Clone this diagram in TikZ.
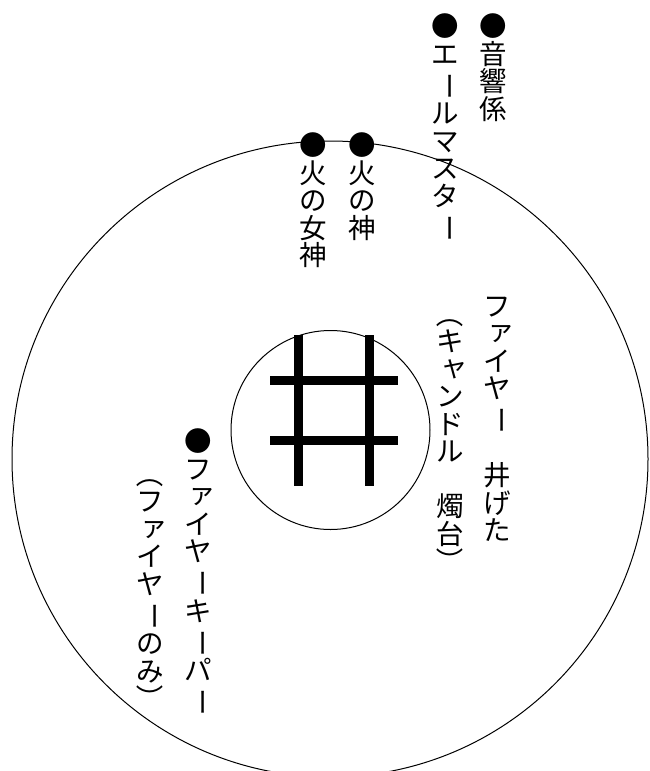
\documentclass[tikz,border=0pt]{standalone}
\usepackage{fontspec}
\usepackage{graphicx}
\newfontfamily\jp{Noto Sans CJK JP}
\newcommand\vstrut{\rule[-0.12em]{0pt}{1em}}
\newcommand\vcell[1]{\hbox to 1em{\hss\vstrut#1\hss}}
\newcommand\vrot[1]{\rotatebox[origin=c]{-90}{#1}}
\newcommand\vsmall[1]{\raisebox{0.12em}{\hspace{0.14em}#1\hspace{-0.14em}}}
\newcommand\vcolumn[1]{\vbox{\offinterlineskip #1}}
\begin{document}
\begin{tikzpicture}[x=1pt,y=-1pt,
  vt/.style={anchor=north,inner sep=0pt,font=\jp\fontsize{27.5}{27.5}\selectfont},
  ring/.style={draw=black,line width=1pt},
  bar/.style={line width=9pt}]
\useasboundingbox (0,0) rectangle (650,771);
\draw[ring] (330,459) circle[radius=318pt];
\draw[ring] (330.5,430) circle[radius=99.5pt];
% hash sign
\draw[bar] (298.5,335) -- (298.5,486);
\draw[bar] (369.5,335) -- (369.5,486);
\draw[bar] (270,380.5) -- (398,380.5);
\draw[bar] (270,440.5) -- (398,440.5);
% texts
\node[vt] (onkyo) at (493,12.5) {\vcolumn{\vcell{●}\vcell{音}\vcell{響}\vcell{係}}};
\node[vt] (ale) at (445,12.5) {\vcolumn{\vcell{●}\vcell{エ}\vcell{\vrot{ー}}\vcell{ル}\vcell{マ}\vcell{ス}\vcell{タ}\vcell{\vrot{ー}}}};
\node[vt] (kami) at (362,131.5) {\vcolumn{\vcell{●}\vcell{火}\vcell{の}\vcell{神}}};
\node[vt] (megami) at (313,131.5) {\vcolumn{\vcell{●}\vcell{火}\vcell{の}\vcell{女}\vcell{神}}};
\node[vt] (igeta) at (497,292) {\vcolumn{\vcell{フ}\vcell{\vsmall{ァ}}\vcell{イ}\vcell{ヤ}\vcell{\vrot{ー}}\vcell{　}\vcell{井}\vcell{げ}\vcell{た}}};
\node[vt] (candle) at (450,300) {\vcolumn{\vcell{\vrot{（}}\vcell{キ}\vcell{\vsmall{ャ}}\vcell{ン}\vcell{ド}\vcell{ル}\vcell{　}\vcell{燭}\vcell{台}\vcell{\vrot{）}}}};
\node[vt] (keeper) at (198,427.5) {\vcolumn{\vcell{●}\vcell{フ}\vcell{\vsmall{ァ}}\vcell{イ}\vcell{ヤ}\vcell{\vrot{ー}}\vcell{キ}\vcell{\vrot{ー}}\vcell{パ}\vcell{\vrot{ー}}}};
\node[vt] (only) at (150,460) {\vcolumn{\vcell{\vrot{（}}\vcell{フ}\vcell{\vsmall{ァ}}\vcell{イ}\vcell{ヤ}\vcell{\vrot{ー}}\vcell{の}\vcell{み}\vcell{\vrot{）}}}};
\end{tikzpicture}
\end{document}
